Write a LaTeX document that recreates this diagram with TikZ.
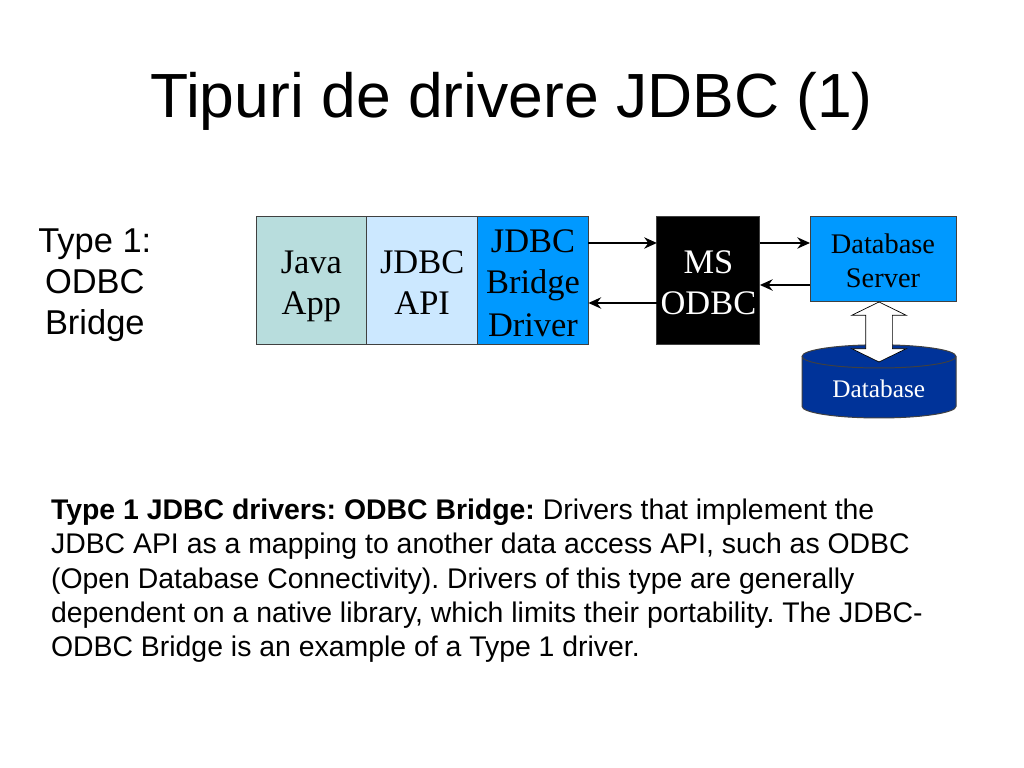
\documentclass[tikz,border=0pt]{standalone}
\usepackage{fontspec}
\setmainfont{Liberation Sans}
\newfontfamily\boxfont{Liberation Serif}
\usetikzlibrary{shapes.arrows, arrows.meta, positioning}
\definecolor{javacol}{HTML}{B8DDDD}
\definecolor{apicol}{HTML}{CCE8FF}
\definecolor{drivercol}{HTML}{0099FF}
\definecolor{dbcol}{HTML}{003399}
\newcommand{\lnstrut}{\vrule width 0pt height 0.98em depth 0.2em}

\begin{document}
\begin{tikzpicture}[block/.style={rectangle, draw=black!75, line width=0.7pt, minimum width=2.77cm,
  minimum height=3.2cm, inner sep=0pt, outer sep=0pt, align=center, font=\boxfont\fontsize{24.5}{29.2}\selectfont},
  srvbox/.style={rectangle, draw=black!75, line width=0.7pt, minimum width=3.65cm, minimum height=2.125cm,
  inner sep=0pt, outer sep=0pt, align=center, font=\boxfont\fontsize{20.2}{24.4}\selectfont},
  link/.style={line width=1.8pt, -{Stealth[length=9pt,width=8pt]}}]
  \useasboundingbox (0,0) rectangle (25.6,19.2);
  \fill[white] (0,0) rectangle (25.6,19.2);

  \node[font=\fontsize{44.4}{50}\selectfont] (title) at (12.79,16.66) {Tipuri de drivere JDBC (1)};
  \node[align=center, font=\fontsize{24.5}{29.2}\selectfont] (typelbl) at (2.37,12.06) {Type 1:\\ODBC\\Bridge};

  \node[block, fill=javacol] (java) at (7.785,12.175) {Java\lnstrut\\App\lnstrut};
  \node[block, fill=apicol, right=0pt of java] (api) {JDBC\lnstrut\\API\lnstrut};
  \node[block, fill=drivercol, right=0pt of api] (driver) {JDBC\lnstrut\\Bridge\lnstrut\\Driver\lnstrut};
  \node[block, fill=black, text=white, minimum width=2.575cm] (odbc) at (17.71,12.175) {MS\lnstrut\\ODBC\lnstrut};
  \node[srvbox, fill=drivercol] (server) at (22.075,12.7125) {Database\lnstrut\\Server\lnstrut};

  \draw[draw=black!75, line width=0.7pt, fill=dbcol] (20.05,10.29) -- (20.05,9.04)
    arc[start angle=180, end angle=360, x radius=1.925, y radius=0.29] -- (23.9,10.29)
    arc[start angle=0, end angle=180, x radius=1.925, y radius=0.29]
    arc[start angle=180, end angle=360, x radius=1.925, y radius=0.29];
  \node[text=white, font=\boxfont\fontsize{18}{20}\selectfont] (dblbl) at (21.97,9.47) {Database};
  \node[double arrow, draw=black, line width=0.5pt, fill=white, rotate=90, minimum height=1.5cm, minimum width=1.35cm,
    double arrow head extend=0.35cm, double arrow tip angle=128, inner xsep=0pt, inner ysep=0.325cm] (dblarrow) at (21.975,10.9) {};

  \draw[link] ([yshift=0.95cm]driver.east) -- ([yshift=0.95cm]odbc.west);
  \draw[link] ([yshift=-0.55cm]odbc.west) -- ([yshift=-0.55cm]driver.east);
  \draw[link] ([yshift=0.95cm]odbc.east) -- ([yshift=0.95cm]odbc.east -| server.west);
  \draw[link] ([yshift=-0.1cm]odbc.east -| server.west) -- ([yshift=-0.1cm]odbc.east);

  \node[anchor=north west, inner sep=0pt, align=left, font=\fontsize{20.2}{24.4}\selectfont\frenchspacing] (desc) at (1.27,6.73)
    {\textbf{Type 1 JDBC drivers: ODBC Bridge:} Drivers that implement the\\
    JDBC API as a mapping to another data access API, such as ODBC\\
    (Open Database Connectivity). Drivers of this type are generally\\
    dependent on a native library, which limits their portability. The JDBC-\\
    ODBC Bridge is an example of a Type 1 driver.};
\end{tikzpicture}
\end{document}
